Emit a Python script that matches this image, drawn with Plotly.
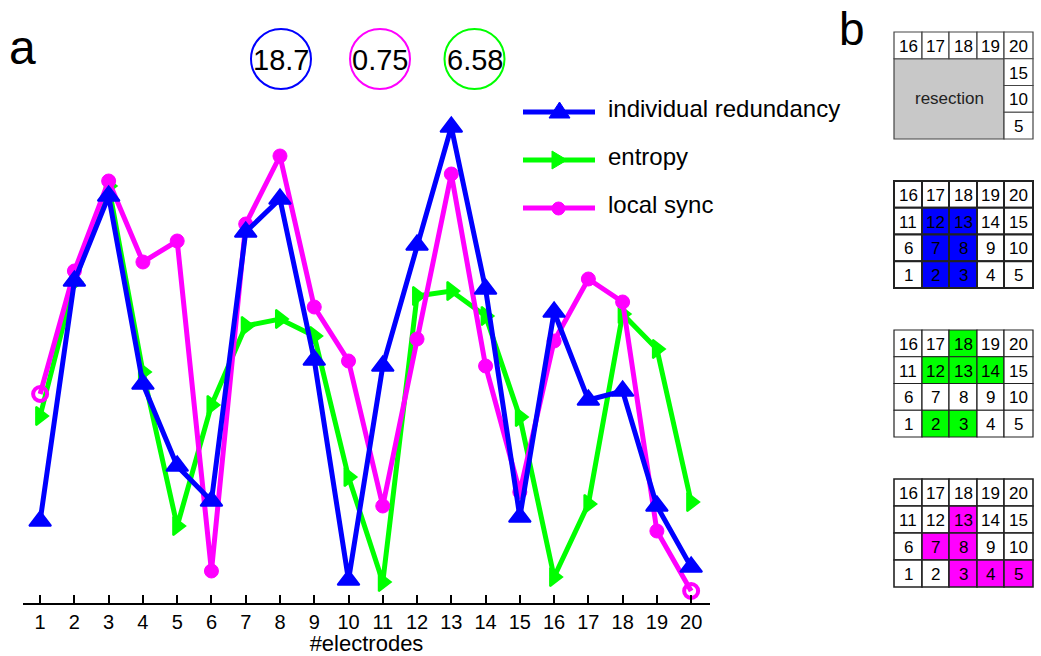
import plotly.graph_objects as go

# ---------------- data ----------------
electrodes = list(range(1, 21))
tick_labels = [str(i) for i in electrodes]

redundancy = [0.82, 3.22, 4.07, 2.19, 1.37, 1.02, 3.71, 4.04, 2.43, 0.23,
              2.37, 3.58, 4.76, 3.14, 0.86, 2.91, 2.03, 2.12, 0.97, 0.36]
entropy = [1.87, 3.21, 4.17, 2.31, 0.77, 1.98, 2.77, 2.84, 2.67, 1.26,
           0.21, 3.07, 3.12, 2.87, 1.86, 0.26, 0.99, 2.89, 2.54, 1.01]
local_sync = [2.09, 3.32, 4.22, 3.41, 3.62, 0.32, 3.79, 4.47, 2.96, 2.42,
              0.97, 2.64, 4.29, 2.37, 1.11, 2.62, 3.24, 3.01, 0.72, 0.12]

series_names = ["individual redundancy", "entropy", "local sync"]
summary_values = ["18.7", "0.75", "6.58"]

# electrode grid (rows top to bottom)
grid_rows = [[16, 17, 18, 19, 20], [11, 12, 13, 14, 15], [6, 7, 8, 9, 10], [1, 2, 3, 4, 5]]
redundancy_cells = [2, 3, 7, 8, 12, 13]
entropy_cells = [2, 3, 12, 13, 14, 18]
sync_cells = [3, 4, 5, 7, 8, 13]

BLUE, GREEN, MAGENTA = "#0000FF", "#00FF00", "#FF00FF"
FONT = "Liberation Sans, Arial, sans-serif"

W, H = 1041, 656


def px(x):
    return x / W


def py(y):
    return 1 - y / H


fig = go.Figure()

# draw order: green, magenta, blue on top
fig.add_trace(go.Scatter(
    x=electrodes, y=entropy, mode="lines+markers", name=series_names[1],
    line=dict(color=GREEN, width=5),
    marker=dict(symbol="triangle-right", size=16, color=GREEN, line=dict(color=GREEN, width=2)),
    showlegend=False))
sync_symbols = ["circle-open"] + ["circle"] * (len(electrodes) - 2) + ["circle-open"]
sync_lw = [4] + [1] * (len(electrodes) - 2) + [4]
fig.add_trace(go.Scatter(
    x=electrodes, y=local_sync, mode="lines+markers", name=series_names[2],
    line=dict(color=MAGENTA, width=5),
    marker=dict(symbol=sync_symbols, size=14, color=MAGENTA, line=dict(color=MAGENTA, width=sync_lw)),
    showlegend=False))
fig.add_trace(go.Scatter(
    x=electrodes, y=redundancy, mode="lines+markers", name=series_names[0],
    line=dict(color=BLUE, width=5),
    marker=dict(symbol="triangle-up", size=19, color=BLUE, line=dict(color=BLUE, width=2)),
    showlegend=False))

shapes = []
annotations = []

# ---- summary circles ----
for cx, col, txt in zip([281, 380, 474.5], [BLUE, MAGENTA, GREEN], summary_values):
    shapes.append(dict(type="circle", xref="paper", yref="paper",
                       x0=px(cx - 30), x1=px(cx + 30), y0=py(89), y1=py(29),
                       line=dict(color=col, width=2)))
    annotations.append(dict(x=px(cx), y=py(60), xref="paper", yref="paper", text=txt,
                            showarrow=False, xanchor="center", yanchor="middle",
                            font=dict(size=29, color="black", family=FONT)))

# ---- legend (manual) ----
leg_y = [112, 160, 208]
leg_cols = [BLUE, GREEN, MAGENTA]
for yy, col, name in zip(leg_y, leg_cols, series_names):
    shapes.append(dict(type="line", xref="paper", yref="paper",
                       x0=px(523), x1=px(595), y0=py(yy), y1=py(yy),
                       line=dict(color=col, width=5)))
    annotations.append(dict(x=px(606), y=py(yy - 4), xref="paper", yref="paper", text=name,
                            showarrow=False, xanchor="left", yanchor="middle",
                            font=dict(size=24, color="black", family=FONT)))


def path(pts):
    return "M " + " L ".join(f"{px(a)},{py(b)}" for a, b in pts) + " Z"


shapes.append(dict(type="path", xref="paper", yref="paper",
                   path=path([(549, 118), (570, 118), (559.5, 102)]),
                   fillcolor=BLUE, line=dict(color=BLUE, width=1)))
shapes.append(dict(type="path", xref="paper", yref="paper",
                   path=path([(552, 151), (552, 169), (567, 160)]),
                   fillcolor=GREEN, line=dict(color=GREEN, width=1)))
shapes.append(dict(type="circle", xref="paper", yref="paper",
                   x0=px(552), x1=px(565), y0=py(215), y1=py(202),
                   fillcolor=MAGENTA, line=dict(color=MAGENTA, width=1)))

# ---- panel labels ----
annotations.append(dict(x=px(22), y=py(47), xref="paper", yref="paper", text="a", showarrow=False,
                        xanchor="center", yanchor="middle", font=dict(size=48, color="black", family=FONT)))
annotations.append(dict(x=px(852), y=py(29), xref="paper", yref="paper", text="b", showarrow=False,
                        xanchor="center", yanchor="middle", font=dict(size=46, color="black", family=FONT)))

# ---- electrode grids ----
col_x = [894, 922, 949, 977, 1004, 1033]


def row_edges(top, bottom):
    h = (bottom - top) / 4
    return [top + i * h for i in range(5)]


def add_cell(x0, x1, y0, y1, fill, lw, lc):
    shapes.append(dict(type="rect", xref="paper", yref="paper",
                       x0=px(x0), x1=px(x1), y0=py(y1), y1=py(y0),
                       fillcolor=fill, line=dict(color=lc, width=lw)))


def add_num(x0, x1, y0, y1, n, size=17):
    annotations.append(dict(x=px((x0 + x1) / 2), y=py((y0 + y1) / 2 + 1), xref="paper", yref="paper",
                            text=str(n), showarrow=False, xanchor="center", yanchor="middle",
                            font=dict(size=size, color="black", family=FONT)))


# grid 1: resection
ry = row_edges(32, 139)
add_cell(col_x[0], col_x[4], ry[1], ry[4], "#C8C8C8", 1.2, "#444444")
for c in range(5):
    add_cell(col_x[c], col_x[c + 1], ry[0], ry[1], "white", 1.2, "#444444")
    add_num(col_x[c], col_x[c + 1], ry[0], ry[1], grid_rows[0][c])
for r in range(1, 4):
    add_cell(col_x[4], col_x[5], ry[r], ry[r + 1], "white", 1.2, "#444444")
    add_num(col_x[4], col_x[5], ry[r], ry[r + 1], grid_rows[r][4])
annotations.append(dict(x=px((col_x[0] + col_x[4]) / 2), y=py(99), xref="paper", yref="paper",
                        text="resection", showarrow=False, xanchor="center", yanchor="middle",
                        font=dict(size=17, color="#222222", family=FONT)))

# grids 2-4
for (top, bottom), cells, col, lw in zip([(181, 288), (330, 437), (479, 587)],
                                         [redundancy_cells, entropy_cells, sync_cells],
                                         [BLUE, GREEN, MAGENTA], [2, 1.2, 1.6]):
    ry = row_edges(top, bottom)
    for r in range(4):
        for c in range(5):
            n = grid_rows[r][c]
            fill = col if n in cells else "white"
            add_cell(col_x[c], col_x[c + 1], ry[r], ry[r + 1], fill, lw, "#222222")
            add_num(col_x[c], col_x[c + 1], ry[r], ry[r + 1], n)

fig.update_layout(
    width=W, height=H,
    margin=dict(l=0, r=0, t=0, b=0),
    paper_bgcolor="white", plot_bgcolor="white",
    shapes=shapes, annotations=annotations,
    showlegend=False,
    hovermode=False,
    xaxis=dict(domain=[px(23), px(710)], range=[0.5, 20.55],
               tickmode="array", tickvals=electrodes, ticktext=tick_labels,
               ticks="inside", ticklen=8, tickwidth=1.5, tickcolor="black",
               showline=True, linecolor="black", linewidth=2,
               showgrid=False, zeroline=False,
               tickfont=dict(size=20, color="black", family=FONT),
               title=dict(text="#electrodes", font=dict(size=22, color="black", family=FONT), standoff=0)),
    yaxis=dict(domain=[1 - 603 / H, 1 - 20 / H], range=[0, 5.83], visible=False),
)

fig.write_html("out.html", config={"displayModeBar": False},
               post_script="document.body.style.margin='0';document.body.style.overflow='hidden';")
